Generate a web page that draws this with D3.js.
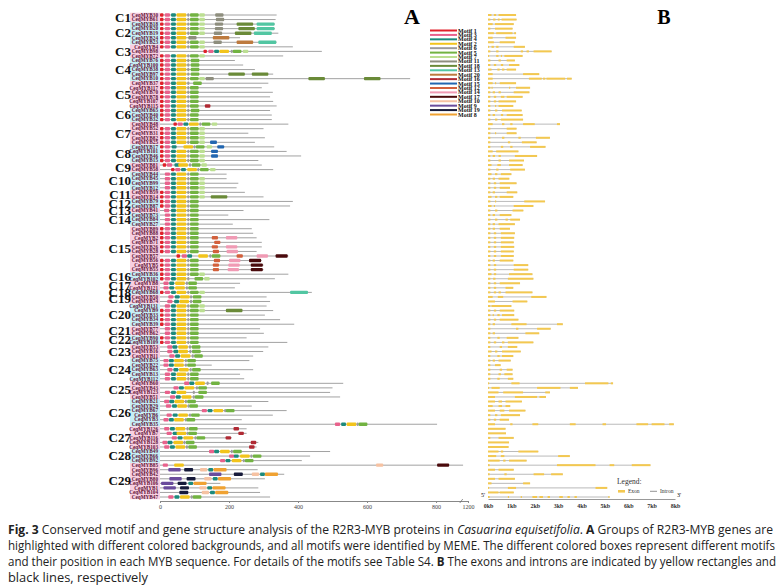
<!DOCTYPE html>
<html><head><meta charset="utf-8">
<script src="https://cdn.jsdelivr.net/npm/d3@7"></script>
<style>body{margin:0;background:#fff}svg{display:block}</style>
</head><body><svg id="c" width="782" height="585"></svg>
<script>
// ---------------- DATA ----------------
const groups = ["C1","C2","C3","C4","C5","C6","C7","C8","C9","C10","C11","C12","C13","C14","C15","C16","C17","C18","C19","C20","C21","C22","C23","C24","C25","C26","C27","C28","C29"];
const groupSizes = [2,5,3,5,6,3,5,4,2,4,2,2,1,3,10,2,2,1,2,5,2,2,3,5,4,6,5,3,8];
const geneNames = [
 "CeqMYB30","CeqMYB61",
 "CeqMYB18","CeqMYB20","CeqMYB19","CeqMYB24","CeqMYB23",
 "CeqMYB4","CeqMYB98","CeqMYB72",
 "CeqMYB76","CeqMYB100","CeqMYB38","CeqMYB97","CeqMYB10",
 "CeqMYB37","CeqMYB117","CeqMYB70","CeqMYB78","CeqMYB107","CeqMYB115",
 "CeqMYB65","CeqMYB40","CeqMYB32",
 "CeqMYB48","CeqMYB52","CeqMYB31","CeqMYB82","CeqMYB25",
 "CeqMYB17","CeqMYB101","CeqMYB46","CeqMYB15",
 "CeqMYB81","CeqMYB58",
 "CeqMYB44","CeqMYB45","CeqMYB99","CeqMYB12",
 "CeqMYB59","CeqMYB14",
 "CeqMYB79","CeqMYB87",
 "CeqMYB41",
 "CeqMYB73","CeqMYB84","CeqMYB27",
 "CeqMYB89","CeqMYB88","CeqMYB2","CeqMYB71","CeqMYB26","CeqMYB28","CeqMYB57","CeqMYB56","CeqMYB5","CeqMYB55",
 "CeqMYB36","CeqMYB102",
 "CeqMYB8","CeqMYB121",
 "CeqMYB68",
 "CeqMYB50","CeqMYB74",
 "CeqMYB131","CeqMYB9","CeqMYB33","CeqMYB34","CeqMYB39",
 "CeqMYB77","CeqMYB62",
 "CeqMYB90","CeqMYB109",
 "CeqMYB53","CeqMYB16","CeqMYB11",
 "CeqMYB75","CeqMYB22","CeqMYB63","CeqMYB13","CeqMYB112",
 "CeqMYB60","CeqMYB43","CeqMYB123","CeqMYB51",
 "CeqMYB21","CeqMYB29","CeqMYB67","CeqMYB6","CeqMYB3","CeqMYB35",
 "CeqMYB126","CeqMYB7","CeqMYB116","CeqMYB128","CeqMYB103",
 "CeqMYB49","CeqMYB66","CeqMYB92",
 "CeqMYB85","CeqMYB96","CeqMYB42","CeqMYB80","CeqMYB106","CeqMYB1","CeqMYB104","CeqMYB47"
];
// protein length (aa)
const proteinLength = [
 338,335, 333,333,343,232,338, 385,469,357, 217,241,275,328,725,
 314,295,327,319,328,338, 319,324,324, 372,300,256,304,275,
 331,367,409,285, 295,328, 193,193,227,222, 246,300, 385,377, 242,
 198,317,211, 266,270,280,295,295,280,372,295,300,300,
 372,333, 232,217, 440, 309,319, 309,328,304,348,389, 290,301, 251,369,
 314,299,270, 259,150,270,232,244, 531,500,493,522,
 314,266,367,327,237,803, 251,251,208,285,280, 493,435,411,
 1083,283,360,304,175,285,290,319
];
// motif id : start position (aa)
const motifs = [
 "1:0 3:14 4:32 2:48 6:79 5:87 7:114 11:160",
 "1:0 3:14 4:32 2:48 6:79 5:87 7:114 11:162",
 "1:0 3:14 4:32 2:48 6:79 5:87 7:114 11:159 18:222 13:280",
 "1:0 3:14 4:32 2:48 6:79 5:87 7:114 11:159 18:227 13:280",
 "1:0 3:14 4:32 2:48 6:79 5:87 7:114 11:156 18:217 13:272",
 "1:0 3:14 4:32 2:48 11:82 20:153",
 "1:0 3:14 4:32 2:48 6:79 5:87 7:114 11:155 20:222 13:285",
 "1:0 3:14 4:32 2:48 6:79 5:87 7:114",
 "1:126 3:140 4:157 2:172 6:205 5:211 7:240",
 "1:0 3:14 4:32 2:48 6:79 5:87 7:114",
 "1:0 3:14 4:32 2:48 6:79 5:89",
 "1:0 3:14 4:32 2:48 6:79 5:89",
 "1:0 3:14 4:32 2:48 6:79 5:89",
 "1:0 3:14 4:32 2:48 6:79 5:89 18:198 18:266",
 "1:0 3:14 4:32 2:48 6:79 5:87 7:114 11:132 18:430 18:591",
 "1:0 3:14 4:32 2:48 6:79 5:96",
 "1:0 3:14 4:32 2:48 6:79 5:87",
 "1:0 3:14 4:32 2:48 6:79 5:87",
 "1:0 3:14 4:32 2:48 6:79 5:87",
 "1:0 3:14 4:32 2:48 6:79 5:87",
 "1:0 3:14 4:32 2:48 6:79 5:87 16:130",
 "1:0 3:14 4:32 2:48 6:79 5:89",
 "1:0 3:14 4:32 2:48 6:79 5:87",
 "1:0 3:14 4:32 2:48 6:79 5:87",
 "1:39 3:51 4:68 2:84 6:114 5:121 7:150",
 "1:0 3:14 4:32 2:48 6:79 5:87 7:114",
 "1:0 3:14 4:32 2:48 6:79 5:87 7:114",
 "1:0 3:14 4:32 2:48 6:79 5:87 7:114",
 "1:0 3:14 4:32 2:48 6:79 5:87 7:114 15:145",
 "1:0 3:14 4:34 2:68 6:97 5:104 7:135 15:166",
 "1:0 3:14 4:32 2:48 6:79 5:87 7:114 15:148",
 "1:0 3:14 4:32 2:48 6:79 5:87 7:114 15:148",
 "1:0 3:14 4:32 2:48 6:79 5:87 7:114",
 "1:8 3:20 4:42 2:53 6:84 5:92 7:120",
 "1:32 3:44 4:61 2:79 6:108 5:116 7:145",
 "3:14 4:32 2:48 6:79 5:87",
 "3:14 4:32 2:48 6:79 5:87 7:114",
 "3:14 4:32 2:48 6:79 5:87 7:114",
 "3:14 4:32 2:48 6:79 5:87 7:114",
 "1:0 3:14 4:32 2:48 6:79 5:87 7:114",
 "1:0 3:14 4:32 2:48 6:79 5:87 7:114 18:147",
 "1:0 3:14 4:32 2:48 6:79 5:87",
 "1:0 3:14 4:32 2:48 6:79 5:87",
 "3:12 4:32 2:48 6:79 5:87",
 "3:14 4:32 2:48 6:79 5:87",
 "3:14 4:32 2:48 6:79 5:87",
 "3:14 4:32 2:48 6:79 5:87",
 "1:0 3:14 4:32 2:48 6:79 5:87",
 "1:0 3:14 4:32 2:48 6:79 5:87",
 "1:0 3:14 4:32 2:48 6:79 5:87 12:150 14:191",
 "1:0 3:14 4:32 2:48 6:79 5:87 12:157",
 "1:0 3:14 4:32 2:48 6:79 5:87 12:150 14:191",
 "1:0 3:14 4:32 2:48 6:79 5:87 12:153 14:193",
 "1:48 3:63 4:79 2:111 6:143 5:150 12:222 14:280 17:335",
 "1:0 3:14 4:32 2:48 6:79 5:87 12:156 14:200 17:258",
 "1:0 3:14 4:32 2:48 6:79 5:87 12:153 14:198 17:263",
 "1:0 3:14 4:32 2:48 6:79 5:87 12:153 14:196 17:263",
 "1:0 3:14 4:32 2:48 6:79 5:87 7:114",
 "1:0 3:14 4:32 2:48 6:79 5:100 7:128",
 "3:10 4:27 2:44 6:75 5:82",
 "3:10 4:27 2:44 6:75 5:82",
 "1:0 3:14 4:32 2:48 6:79 5:87 7:114 13:377",
 "3:24 4:43 2:58 6:87 5:95",
 "3:21 4:41 2:56 6:87 5:95",
 "3:14 4:32 2:48 6:79 5:87 7:114",
 "1:0 3:14 4:32 2:48 6:79 5:87 7:114 18:191",
 "1:0 3:14 4:32 2:48 6:79 5:87",
 "1:0 3:14 4:32 2:48 6:79 5:87",
 "1:0 3:14 4:32 2:48 6:79 5:87",
 "3:14 4:32 2:48 6:79 5:87",
 "3:14 4:32 2:48 6:79 5:87",
 "1:0 3:14 4:32 2:48 6:79 5:87",
 "1:0 3:14 4:32 2:48 6:79 5:87",
 "3:21 4:36 2:53 6:84 5:92",
 "3:21 4:39 2:53 6:85 5:93",
 "3:27 4:44 2:60 6:92 5:99",
 "3:10 4:26 2:41 6:72 5:79",
 "3:10 4:26 2:41 6:72 5:79",
 "3:21 4:39 2:55 6:86 5:93",
 "3:14 4:32 2:48 6:79 5:87",
 "3:14 4:32 2:48 6:79 5:87",
 "3:70 4:85 2:102 6:135 5:148",
 "3:39 4:55 2:71 6:104 5:111",
 "3:14 4:32 2:48 6:95 5:111",
 "3:29 4:46 2:63 6:95 5:101",
 "3:12 4:27 2:42 6:72 5:79",
 "3:17 4:35 2:50 6:80 5:85",
 "3:121 4:138 2:155 6:186 5:191",
 "3:19 4:37 2:53 6:84 5:90",
 "3:10 4:26 2:41 6:72 5:77",
 "3:507 4:525 2:541 6:570 5:576",
 "3:12 4:29 2:45 6:77 5:84 16:213",
 "3:19 4:37 2:48 6:77 5:82 16:227",
 "3:34 4:51 2:68 6:100 5:106 16:190",
 "3:7 4:22 2:39 6:68 5:75 16:263",
 "3:12 4:29 2:45 6:75 5:82 16:258",
 "3:142 4:157 2:174 6:205 5:212",
 "3:200 4:214 2:232 6:262 5:269",
 "3:174 4:190 2:208 6:240 5:246",
 "3:8 2:41 10:626 17:803",
 "9:24 19:70 10:116 4:140 8:155",
 "9:142 19:214 10:266 4:290 8:304",
 "9:27 19:77 10:128 4:153 8:168",
 "9:3 19:51 4:82 8:97",
 "9:10 19:58 10:114 4:137 8:152",
 "19:56 10:121 4:145 8:160",
 "3:24 4:42 2:58 6:89 5:95"
];
// exon start-end (kb); gene spans from 0 to last exon end
const exons = [
 "0-0.15 0.25-0.35 0.45-1.2","0-0.1 0.22-0.32 0.42-0.5 0.58-1.22","0-0.2 0.3-1.1","0-0.1 0.3-1.05","0-0.25 0.35-1.05 1.12-1.2",
 "0-0.2 0.75-1.2","0-0.25 0.5-1.15","0-0.05 0.15-0.25 0.35-0.45 1.1-1.58","0-0.1 0.35-0.45 1.4-1.5 1.65-1.75 1.95-2.72","0-0.05 0.35-0.45 0.55-0.6 0.7-1.48",
 "0-0.1 0.45-0.55 0.8-1.15","0-0.1 0.25-0.35 0.55-0.65 0.9-1.34","0-0.15 0.4-0.5 0.6-0.7 0.8-1.2","0-0.2 1.5-2.19","0-0.2 1.75-2.3 2.35-2.45 2.5-3.3 3.38-3.58",
 "0-0.2 0.3-0.35 0.5-1.2","0-0.1 0.15-0.2 0.9-0.95 1.2-1.8","0-0.1 0.2-0.3 0.45-0.55 1.1-1.77","0-0.1 0.25-0.35 0.55-0.7 0.8-1.48","0-0.1 0.25-0.35 0.45-1.2",
 "0-0.1 0.3-0.35 0.45-1.08","0-0.1 0.3-0.4 0.6-1.44","0-0.1 0.2-0.3 0.55-0.65 0.8-1.48","0-0.1 0.3-0.4 0.55-1.5","0-0.2 0.6-0.7 0.95-1.05 1.5-2.0 2.95-3.08",
 "0-0.1 0.8-1.22","0-0.1 0.3-0.35 0.8-1.22","0-0.1 0.6-0.7 1.3-1.4 2.05-2.65","0-0.1 0.85-0.95 1.45-2.08","0-0.1 0.55-0.65 0.95-1.05 1.8-2.46",
 "0-0.2 0.35-1.3","0-0.1 0.2-0.3 0.45-0.55 1.15-2.1","0-0.1 0.45-0.55 0.9-1.54","0-0.15 0.4-0.55 0.9-1.48","0-0.1 0.35-0.45 0.95-1.58",
 "0-0.15 0.3-0.4 0.55-1.0","0-0.1 0.2-0.3 0.45-0.91","0-0.1 0.25-0.35 0.5-1.22","0-0.1 0.25-0.35 0.5-0.94","0-0.1 0.2-0.3 0.8-1.25",
 "0-0.15 0.3-0.4 0.5-1.08","0-0.1 0.3-0.35 1.55-2.44","0-0.15 0.25-0.3 1.1-1.94","0-0.1 0.3-0.4 1.05-1.51","0-0.1 0.2-0.3 0.5-1.0",
 "0-0.1 0.3-0.4 0.75-0.85 0.95-1.37","0-0.1 0.2-0.3 0.45-1.15","0-0.1 0.2-0.3 0.5-0.94","0-0.1 0.25-0.35 0.55-1.15","0-0.1 0.25-0.35 0.55-1.12",
 "0-0.1 0.25-0.35 0.55-1.1","0-0.1 0.25-0.35 0.55-1.12","0-0.1 0.25-0.35 0.55-1.1","0-0.1 0.25-0.35 0.55-1.1","0-0.1 0.2-0.3 0.5-1.08",
 "0-0.1 0.25-0.35 1.1-1.72","0-0.1 0.25-0.35 1.1-1.72","0-0.15 0.25-0.35 0.9-1.9","0-0.1 0.22-0.32 0.85-1.94","0-0.1 0.25-0.35 0.5-1.37",
 "0-0.1 0.25-0.35 0.75-1.08","0-0.1 0.25-0.35 0.45-0.55 0.75-1.9","0-0.2 0.42-0.65 1.85-2.5","0-0.3 1.05-1.68","0-0.1 0.15-1.0",
 "0-0.1 0.25-0.35 0.5-1.12","0-0.1 0.2-0.25 0.4-0.5 0.6-1.12","0-0.1 0.25-0.35 0.5-1.3","0-0.1 0.2-0.3 1.0-1.65 2.95-3.2","0-0.1 1.2-1.3 2.1-2.68",
 "0-0.1 0.2-0.3 1.6-2.19","0-0.1 0.4-0.5 0.8-1.3","0-0.1 0.25-0.35 0.6-0.7 0.85-1.94","0-0.1 0.5-0.6 0.85-1.25","0-0.15 0.3-0.4 0.6-1.4",
 "0-0.1 0.4-0.5 0.6-1.08","0-0.1 0.2-0.3 0.45-0.97","0-0.1 0.3-0.54","0-0.1 0.5-0.6 0.8-1.05","0-0.1 0.45-0.55 0.7-1.05",
 "0-0.1 0.4-0.5 0.85-1.08","0-0.05 1.0-1.35 4.15-5.15 5.25-5.35","0-0.05 0.15-0.5 2.1-3.1 3.5-3.85","0-0.45 0.65-1.5 2.45-2.65","0-0.3 1.15-2.1 2.2-2.48",
 "0-0.3 0.45-0.6 0.75-1.45","0-0.2 0.45-0.6 0.75-0.95","0-0.3 0.5-0.7 0.9-1.6","0-0.1 0.3-0.4 0.55-1.37","0-0.1 0.25-0.35 0.5-0.9",
 "0-0.3 0.95-1.05 1.9-2.15 3.5-3.75 4.9-5.05 6.35-6.85 7.0-7.55 7.75-7.95","0-0.75","0-0.77","0-0.1 0.45-1.1","0-0.9",
 "0-0.88","0-0.45 0.55-0.65 1.3-2.15","0-0.35 0.55-0.7 3.0-3.5","0-0.5 0.65-0.75 0.9-1.65","0-0.07 2.95-4.6 5.2-5.4 6.15-6.95",
 "0-0.3 0.45-1.1","0-0.07 0.7-0.8 1.95-2.4 2.7-3.2","0-0.3 0.45-1.15","0-0.15 1.5-1.8","0-0.05 0.85-1.2 4.6-5.1",
 "0-0.45 0.5-1.1","0-0.07 0.85-0.9 1.4-1.45 1.9-2.1 2.2-2.35 2.55-2.65 3.05-3.2 3.4-3.5 3.7-3.8 5.15-5.2"
];
const motifOrder = [1,3,4,2,6,5,7,11,18,13,20,16,15,12,14,17,10,9,19,8];
const motifColor = {1:"#e0202a",3:"#e8628c",4:"#1c8a7c",2:"#f2c41c",6:"#9c9c9c",5:"#72b342",7:"#bcdf92",11:"#8e8e7e",18:"#6a8a38",13:"#52c6a2",20:"#bd7a3e",16:"#b02a34",15:"#2266b0",12:"#d2603c",14:"#f09ab4",17:"#4a0a0c",10:"#f6c2a2",9:"#6a4c9c",19:"#161a3a",8:"#f0a232"};
const motifWidth = {1:10,3:15,4:14,2:28,6:6,5:25,7:16,11:24,18:48,13:52,20:48,16:16,15:20,12:18,14:33,17:35,10:21,9:36,19:26,8:38};
const aTicks = [0,200,400,600,800,1200];
const bTicks = [0,1,2,3,4,5,6,7,8];

// ---------------- DRAW ----------------
const svg = d3.select("#c");
const serif = "'Liberation Serif','Times New Roman',serif";
const n = geneNames.length;
const y = d3.scaleLinear().domain([0, n-1]).range([15, 497]);
const step = y(1)-y(0);
const xA = d3.scaleLinear().domain([0,850,1200]).range([160,453.3,468]);
const xB = d3.scaleLinear().domain([0,8]).range([488,675]);

let s0 = 0;
const gdata = groups.map((g,i)=>{const d={name:g,i,start:s0,end:s0+groupSizes[i]-1}; s0+=groupSizes[i]; return d;});

svg.append("g").selectAll("rect").data(gdata).join("rect")
  .attr("x",130).attr("width",30)
  .attr("y",d=>y(d.start)-step/2).attr("height",d=>(d.end-d.start+1)*step)
  .attr("fill",d=>d.i%2?"#c6eef5":"#f7cfe1");

svg.append("g").selectAll("text").data(gdata).join("text")
  .attr("x",131).attr("y",d=>y((d.start+d.end)/2)+4.3)
  .attr("text-anchor","end").attr("font-family",serif).attr("font-weight","bold")
  .attr("font-size",13).attr("fill","#111").text(d=>d.name);

const rows = geneNames.map((name,i)=>({
  i,name,len:proteinLength[i],
  motifs:motifs[i].split(" ").map(t=>{const [id,st]=t.split(":").map(Number);return {id,st};}),
  exons:exons[i].split(" ").map(t=>t.split("-").map(Number))
}));

svg.append("g").selectAll("text").data(rows).join("text")
  .attr("x",158).attr("y",d=>y(d.i)+1.8).attr("text-anchor","end")
  .attr("font-family",serif).attr("font-weight","bold").attr("font-size",5.2)
  .attr("fill","#5e1236").text(d=>d.name);

const gA = svg.append("g");
gA.selectAll("line").data(rows).join("line")
  .attr("x1",xA(0)).attr("x2",d=>xA(d.len)).attr("y1",d=>y(d.i)).attr("y2",d=>y(d.i))
  .attr("stroke","#a2a2a2").attr("stroke-width",1);
gA.selectAll("g").data(rows).join("g").selectAll("rect")
  .data(d=>d.motifs.map(m=>({...m,i:d.i}))).join("rect")
  .attr("x",d=>xA(d.st)).attr("width",d=>xA(d.st+motifWidth[d.id])-xA(d.st))
  .attr("y",d=>y(d.i)-1.7).attr("height",3.4).attr("rx",1)
  .attr("fill",d=>motifColor[d.id]);

// axis A
const axA = svg.append("g").attr("transform","translate(0,501)")
  .call(d3.axisBottom(xA).tickValues(aTicks).tickSize(2).tickPadding(2).tickFormat(d=>String(d)));
axA.select(".domain").attr("stroke","#888");
axA.selectAll(".tick line").attr("stroke","#888");
axA.selectAll("text").attr("font-family",serif).attr("font-size",6).attr("fill","#444");
svg.append("line").attr("x1",xA(1040)-1.5).attr("x2",xA(1040)+1.5).attr("y1",503).attr("y2",499).attr("stroke","#666").attr("stroke-width",0.7);

// motif legend
const ly = d3.scaleLinear().domain([0,motifOrder.length-1]).range([30.5,114.5]);
const lg = svg.append("g");
lg.selectAll("line").data(motifOrder).join("line")
  .attr("x1",430).attr("x2",457).attr("y1",(d,i)=>ly(i)).attr("y2",(d,i)=>ly(i))
  .attr("stroke",d=>motifColor[d]).attr("stroke-width",2);
lg.selectAll("text").data(motifOrder).join("text")
  .attr("x",458).attr("y",(d,i)=>ly(i)+2).attr("font-family",serif).attr("font-weight","bold")
  .attr("font-size",6).attr("fill","#111").text(d=>"Motif "+d);

// panel letters
svg.append("text").attr("x",412).attr("y",24).attr("text-anchor","middle").attr("font-family",serif)
  .attr("font-weight","bold").attr("font-size",22).text("A");
svg.append("text").attr("x",664).attr("y",23.5).attr("text-anchor","middle").attr("font-family",serif)
  .attr("font-weight","bold").attr("font-size",20).text("B");

// panel B
const gB = svg.append("g");
gB.selectAll("line").data(rows).join("line")
  .attr("x1",xB(0)).attr("x2",d=>xB(d3.max(d.exons,e=>e[1]))).attr("y1",d=>y(d.i)).attr("y2",d=>y(d.i))
  .attr("stroke","#a8a8a8").attr("stroke-width",0.8);
gB.selectAll("g").data(rows).join("g").selectAll("rect")
  .data(d=>d.exons.map(e=>({e,i:d.i}))).join("rect")
  .attr("x",d=>xB(d.e[0])).attr("width",d=>Math.max(0.8,xB(d.e[1])-xB(d.e[0])))
  .attr("y",d=>y(d.i)-1).attr("height",2).attr("fill","#f3c850");

const axB = svg.append("g").attr("transform","translate(0,499)")
  .call(d3.axisBottom(xB).tickValues(bTicks).tickSize(0).tickPadding(5).tickFormat(d=>d+"kb"));
axB.select(".domain").attr("stroke","#999");
axB.selectAll("text").attr("font-family",serif).attr("font-weight","bold").attr("font-size",6).attr("fill","#333");
svg.append("text").attr("x",xB(0)-5).attr("y",497).attr("font-family",serif).attr("font-size",6).attr("text-anchor","middle").text("5'");
svg.append("text").attr("x",xB(8)+4).attr("y",497).attr("font-family",serif).attr("font-size",6).attr("text-anchor","middle").text("3'");

// B legend
svg.append("text").attr("x",617).attr("y",484).attr("font-family",serif).attr("font-size",7.5).attr("fill","#333").text("Legend:");
svg.append("rect").attr("x",618).attr("y",490).attr("width",7).attr("height",2.6).attr("fill","#f3c850");
svg.append("text").attr("x",628).attr("y",493).attr("font-family",serif).attr("font-size",5.5).attr("fill","#333").text("Exon");
svg.append("line").attr("x1",650).attr("x2",657).attr("y1",491.3).attr("y2",491.3).attr("stroke","#777").attr("stroke-width",0.8);
svg.append("text").attr("x",660).attr("y",493).attr("font-family",serif).attr("font-size",5.5).attr("fill","#333").text("Intron");

// caption
const caption = [
 {w:765,segs:[["Fig. 3","bold"],[" Conserved motif and gene structure analysis of the R2R3-MYB proteins in ",""],["Casuarina equisetifolia","italic"],[". ",""],["A","bold"],[" Groups of R2R3-MYB genes are",""]]},
 {w:767,segs:[["highlighted with different colored backgrounds, and all motifs were identified by MEME. The different colored boxes represent different motifs",""]]},
 {w:768,segs:[["and their position in each MYB sequence. For details of the motifs see Table S4. ",""],["B","bold"],[" The exons and introns are indicated by yellow rectangles and",""]]},
 {w:140,segs:[["black lines, respectively",""]]}
];
caption.forEach((ln,k)=>{
  const t = svg.append("text").attr("x",8).attr("y",534+k*16)
    .attr("font-family","'Open Sans','Noto Sans',sans-serif").attr("font-size",13).attr("fill","#222")
    .attr("textLength",ln.w).attr("lengthAdjust","spacingAndGlyphs");
  ln.segs.forEach(([s,st])=>{
    const ts=t.append("tspan").text(s);
    if(st==="bold") ts.attr("font-weight","bold");
    if(st==="italic") ts.attr("font-style","italic");
  });
});
</script></body></html>
